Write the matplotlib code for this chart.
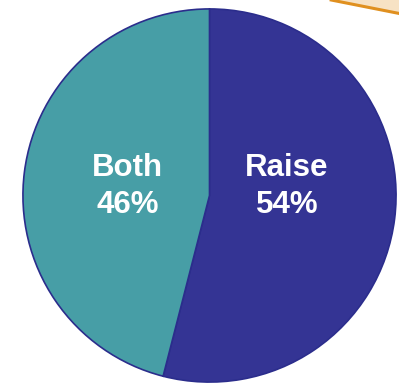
import numpy as np
import matplotlib.pyplot as plt
from matplotlib.patches import Polygon

labels = ["Raise", "Both"]
shares = [54, 46]
colors = ["#343494", "#479ea6"]
edge = "#2b2d8c"

fig = plt.figure(figsize=(3.99, 3.84), dpi=100)

# bit of the orange banner sticking in at the top right
banner = Polygon([[0.83, 1.0], [1.0, 1.0], [1.0, 0.965]], closed=True,
                 transform=fig.transFigure, facecolor="#f7e2c4", edgecolor="none")
fig.patches.append(banner)
fig.add_artist(plt.Line2D([0.83, 1.0], [1.0, 0.965], transform=fig.transFigure,
                          color="#e0901f", lw=2.2))

# pie bounding box in pixels: x 22..397, y 8..383
ax = fig.add_axes([22 / 399, 1 / 384, 375 / 399, 375 / 384])
wedges, _ = ax.pie(shares, colors=colors, startangle=90, counterclock=False,
                   wedgeprops=dict(edgecolor=edge, linewidth=1.2))
ax.set_xlim(-1.005, 1.005)
ax.set_ylim(-1.005, 1.005)
ax.set_aspect("equal")

font = dict(color="white", fontsize=22.5, fontweight="bold",
            family=["Liberation Sans", "DejaVu Sans"], ha="center", va="center",
            linespacing=1.3)
ax.text(0.415, 0.05, f"{labels[0]}\n{shares[0]}%", **font)
ax.text(-0.44, 0.05, f"{labels[1]}\n{shares[1]}%", **font)

fig.savefig("out.png", dpi=100, facecolor="white")
